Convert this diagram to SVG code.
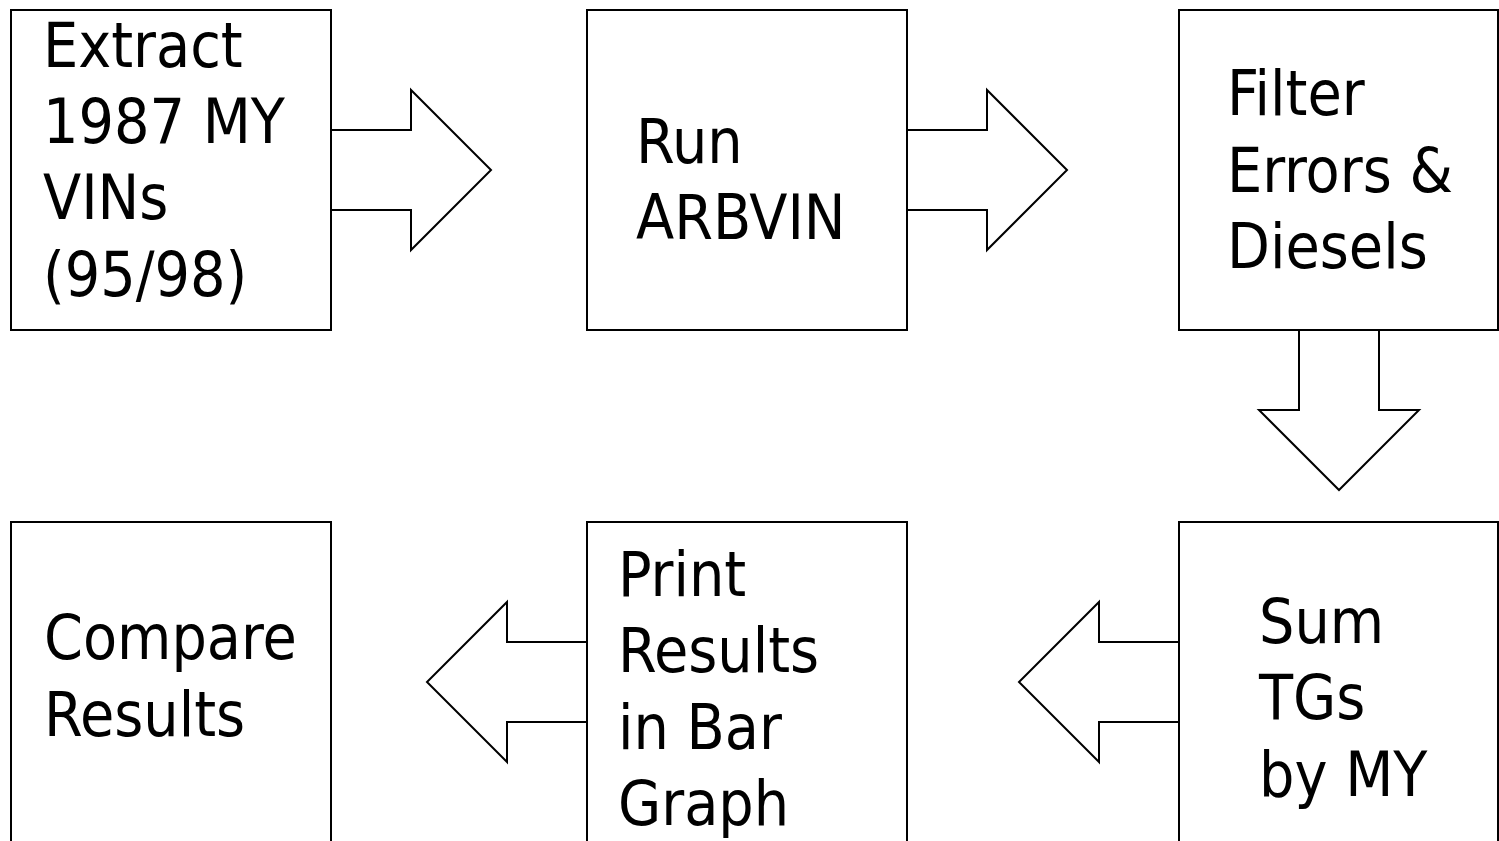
<svg xmlns="http://www.w3.org/2000/svg" width="1499" height="841" viewBox="0 0 1499 841">
  <style>
    .box { fill: #ffffff; stroke: #000000; stroke-width: 2; }
    .arrow { fill: #ffffff; stroke: #000000; stroke-width: 2; stroke-linejoin: miter; }
    .label { font-family: "DejaVu Sans Condensed", "DejaVu Sans", sans-serif; font-stretch: condensed; font-size: 62px; fill: #000000; }
  </style>
  <rect x="0" y="0" width="1499" height="841" fill="#ffffff"/>

  <!-- block arrows between the process steps -->
  <g id="connectors">
    <polygon class="arrow" points="331,130 411,130 411,90 491,170 411,250 411,210 331,210"/>
    <polygon class="arrow" points="907,130 987,130 987,90 1067,170 987,250 987,210 907,210"/>
    <polygon class="arrow" points="1299,330 1299,410 1259,410 1339,490 1419,410 1379,410 1379,330"/>
    <polygon class="arrow" points="1179,642 1099,642 1099,602 1019,682 1099,762 1099,722 1179,722"/>
    <polygon class="arrow" points="587,642 507,642 507,602 427,682 507,762 507,722 587,722"/>
  </g>

  <g id="extract">
    <rect class="box" x="11" y="10" width="320" height="320"/>
    <text class="label" x="43" y="67">Extract</text>
    <text class="label" x="43" y="143">1987 MY</text>
    <text class="label" x="43" y="219">VINs</text>
    <text class="label" x="43" y="296">(95/98)</text>
  </g>

  <g id="run">
    <rect class="box" x="587" y="10" width="320" height="320"/>
    <text class="label" x="636" y="163">Run</text>
    <text class="label" x="636" y="239">ARBVIN</text>
  </g>

  <g id="filter">
    <rect class="box" x="1179" y="10" width="319" height="320"/>
    <text class="label" x="1227" y="115">Filter</text>
    <text class="label" x="1227" y="192">Errors &amp;</text>
    <text class="label" x="1227" y="268">Diesels</text>
  </g>

  <g id="sum">
    <rect class="box" x="1179" y="522" width="319" height="330"/>
    <text class="label" x="1259" y="643">Sum</text>
    <text class="label" x="1259" y="719">TGs</text>
    <text class="label" x="1259" y="796">by MY</text>
  </g>

  <g id="print">
    <rect class="box" x="587" y="522" width="320" height="330"/>
    <text class="label" x="618" y="596">Print</text>
    <text class="label" x="618" y="672">Results</text>
    <text class="label" x="618" y="749">in Bar</text>
    <text class="label" x="618" y="825">Graph</text>
  </g>

  <g id="compare">
    <rect class="box" x="11" y="522" width="320" height="330"/>
    <text class="label" x="44" y="659">Compare</text>
    <text class="label" x="44" y="736">Results</text>
  </g>
</svg>
